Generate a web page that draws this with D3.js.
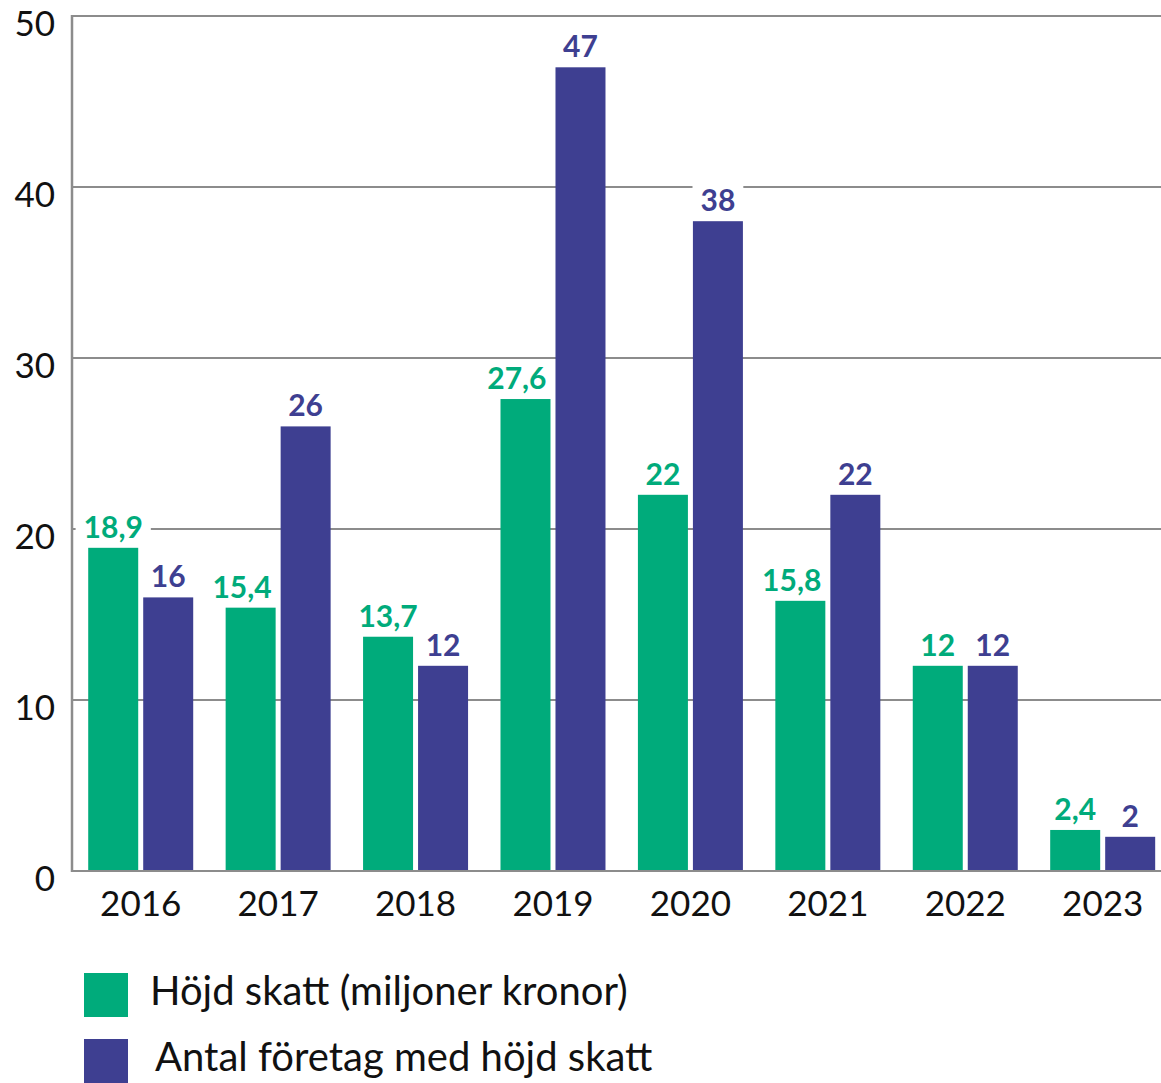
<!DOCTYPE html>
<html>
<head>
<meta charset="utf-8">
<script src="https://cdn.jsdelivr.net/npm/d3@7"></script>
<style>
  html, body { margin: 0; padding: 0; background: #fff; }
  svg { display: block; font-family: Lato, "Noto Sans", sans-serif; }
</style>
</head>
<body>
<svg id="chart" width="1161" height="1083"></svg>
<script>
const years = ["2016", "2017", "2018", "2019", "2020", "2021", "2022", "2023"];
const skatt = [18.9, 15.4, 13.7, 27.6, 22, 15.8, 12, 2.4];
const foretag = [16, 26, 12, 47, 38, 22, 12, 2];
const seriesNames = ["Höjd skatt (miljoner kronor)", "Antal företag med höjd skatt"];
const seriesColors = ["#00AB7B", "#3E3F91"];
const yTicks = [0, 10, 20, 30, 40, 50];

const svg = d3.select("#chart");
const mLeft = 72, mRight = 1161, mTop = 16, mBottom = 871;

const x = d3.scaleBand().domain(years).range([mLeft, 1171.4]).paddingInner(0.236).paddingOuter(0.118);
const xInner = d3.scaleBand().domain([0, 1]).range([0, x.bandwidth()]).paddingInner(5 / 55);
const y = d3.scaleLinear().domain([0, 50]).range([mBottom, mTop]);

const fmt = v => String(v).replace(".", ",");

// gridlines
svg.append("g").selectAll("line").data(yTicks.filter(t => t > 0)).join("line")
  .attr("x1", mLeft).attr("x2", mRight)
  .attr("y1", d => y(d)).attr("y2", d => y(d))
  .attr("stroke", "#8c8c8c").attr("stroke-width", 2);

// y tick labels
svg.append("g").selectAll("text").data(yTicks).join("text")
  .attr("x", 55).attr("y", d => y(d) + 11)
  .attr("text-anchor", "end").attr("dominant-baseline", "middle")
  .attr("font-size", 35).attr("fill", "#111")
  .text(d => d);

const data = years.map((yr, i) => ({ year: yr, vals: [skatt[i], foretag[i]] }));
const flat = [];
data.forEach(d => d.vals.forEach((v, k) => flat.push({ year: d.year, v, k, other: d.vals[1 - k] })));
const cx = d => x(d.year) + xInner(d.k) + xInner.bandwidth() / 2;

// label backgrounds layer (below bars)
const bgLayer = svg.append("g");

// bars
svg.append("g").selectAll("rect").data(flat).join("rect")
  .attr("x", d => x(d.year) + xInner(d.k)).attr("width", xInner.bandwidth())
  .attr("y", d => y(d.v)).attr("height", d => y(0) - y(d.v))
  .attr("fill", d => seriesColors[d.k]);

// axes lines
svg.append("line").attr("x1", mLeft).attr("x2", mLeft).attr("y1", mTop - 1).attr("y2", mBottom + 1)
  .attr("stroke", "#8c8c8c").attr("stroke-width", 2.5);
svg.append("line").attr("x1", mLeft).attr("x2", mRight).attr("y1", mBottom).attr("y2", mBottom)
  .attr("stroke", "#8c8c8c").attr("stroke-width", 2);

// value labels
const labels = svg.append("g").selectAll("text").data(flat).join("text")
  .attr("x", cx)
  .attr("y", d => y(d.v) - 10)
  .attr("text-anchor", "middle")
  .attr("font-size", 30).attr("font-weight", 700)
  .attr("fill", d => seriesColors[d.k])
  .text(d => fmt(d.v));
labels.each(function (d) {
  let bb = this.getBBox();
  // keep green labels clear of the taller neighbouring bar
  if (d.k === 0 && d.other > d.v) {
    const limit = x(d.year) + xInner(1) - 9;
    if (bb.x + bb.width > limit) {
      const shift = bb.x + bb.width - limit;
      d3.select(this).attr("x", cx(d) - shift);
      bb = this.getBBox();
    }
  }
  bgLayer.append("rect")
    .attr("x", bb.x - 8).attr("y", bb.y + 2).attr("width", bb.width + 16).attr("height", bb.height - 4)
    .attr("fill", "#fff");
});

// x labels
svg.append("g").selectAll("text").data(years).join("text")
  .attr("x", d => x(d) + x.bandwidth() / 2).attr("y", 916)
  .attr("text-anchor", "middle").attr("font-size", 35).attr("fill", "#111")
  .text(d => d);

// legend
const legend = svg.append("g").selectAll("g").data(seriesNames).join("g")
  .attr("transform", (d, i) => `translate(84,${973 + i * 66})`);
legend.append("rect").attr("width", 44).attr("height", 44).attr("fill", (d, i) => seriesColors[i]);
legend.append("text").attr("x", (d, i) => i === 0 ? 66 : 71).attr("y", 22)
  .attr("dominant-baseline", "middle").attr("font-size", 40).attr("fill", "#111")
  .text(d => d);
</script>
</body>
</html>
